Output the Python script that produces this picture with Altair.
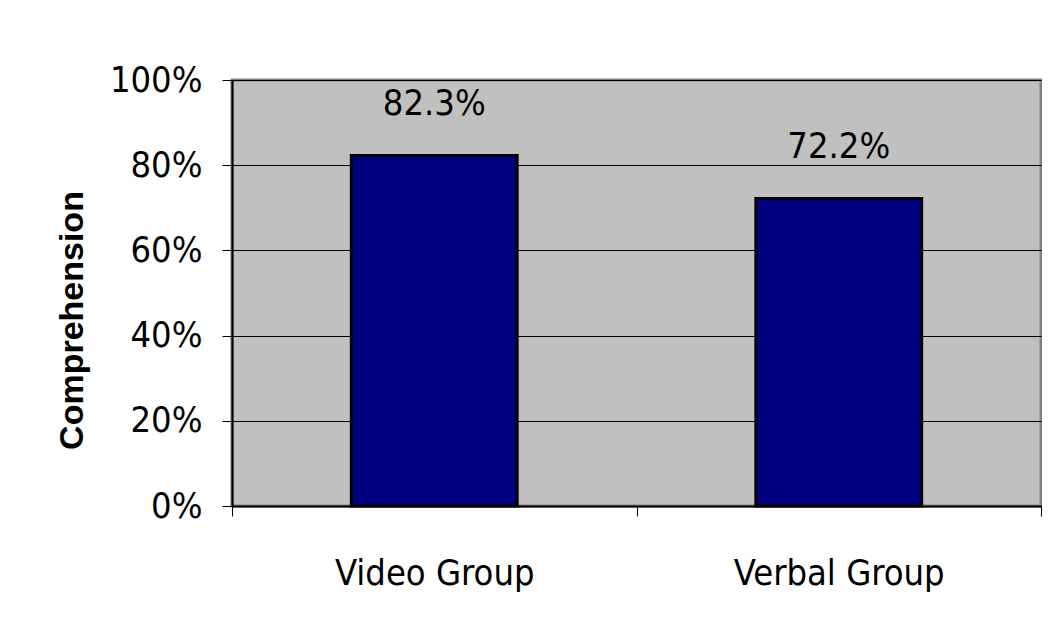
import altair as alt
import pandas as pd

groups = ["Video Group", "Verbal Group"]
comprehension = [0.823, 0.722]
y_ticks = [0, 0.2, 0.4, 0.6, 0.8, 1.0]

df = pd.DataFrame({"group": groups, "value": comprehension})

FONT = "DejaVu Sans Condensed, Liberation Sans, Arial, sans-serif"

x_enc = alt.X(
    "group:N",
    sort=groups,
    scale=alt.Scale(paddingInner=0, paddingOuter=0),
    axis=alt.Axis(
        title=None,
        labelAngle=0,
        labelFont=FONT,
        labelFontSize=36,
        labelColor="black",
        labelPadding=40,
        labelLimit=0,
        tickBand="extent",
        tickSize=10,
        tickColor="black",
        tickWidth=1,
        domainColor="black",
        domainWidth=2,
        grid=False,
    ),
)

y_enc = alt.Y(
    "value:Q",
    scale=alt.Scale(domain=[0, 1], nice=False),
    axis=alt.Axis(
        title="Comprehension",
        titleFont="Liberation Sans, Arial, sans-serif",
        titleFontSize=34,
        titleFontWeight="bold",
        titleColor="black",
        titlePadding=20,
        titleY=240,
        titleAlign="center",
        values=y_ticks,
        format="%",
        labelFont=FONT,
        labelFontSize=36,
        labelColor="black",
        labelPadding=20,
        labelLimit=0,
        tickSize=10,
        tickColor="black",
        domainColor="black",
        domainWidth=2,
        gridColor="black",
        gridWidth=1,
        gridOpacity=1,
    ),
)

bars = alt.Chart(df).mark_bar(
    color="#000080", stroke="black", strokeWidth=3, width=alt.RelativeBandSize(0.41)
).encode(x=x_enc, y=y_enc)

labels = alt.Chart(df).mark_text(
    font=FONT, fontSize=36, color="black", dy=-51, baseline="middle"
).encode(
    x=alt.X("group:N", sort=groups),
    y=alt.Y("value:Q"),
    text=alt.Text("value:Q", format=".1%"),
)

chart = (
    alt.layer(bars, labels)
    .properties(
        width=809,
        height=426,
        autosize=alt.AutoSizeParams(type="none"),
        padding={"left": 224, "top": 72, "right": 1, "bottom": 118},
        background="white",
    )
    .configure_view(fill="#c0c0c0", stroke="#808080", strokeWidth=3)
)

chart.save("out.html", embed_options={"renderer": "svg", "actions": False})
